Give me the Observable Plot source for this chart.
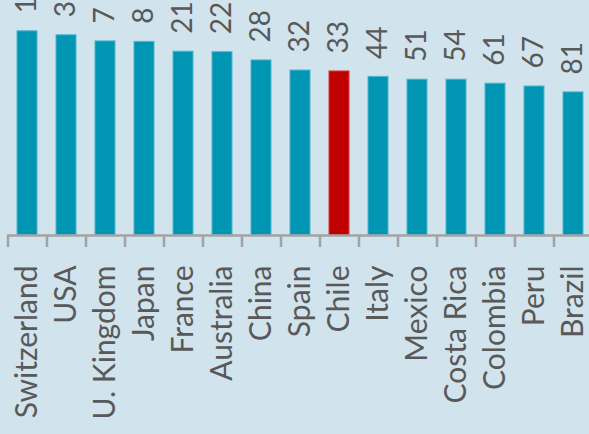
<!DOCTYPE html>
<html>
<head>
<meta charset="utf-8">
<script src="https://cdn.jsdelivr.net/npm/d3@7"></script>
<script src="https://cdn.jsdelivr.net/npm/@observablehq/plot@0.6"></script>
<style>
  html, body { margin: 0; padding: 0; background: #d1e3ec; overflow: hidden; }
  #chart svg { display: block; }
</style>
</head>
<body>
<div id="chart"></div>
<script>
const countries = ["Switzerland", "USA", "U. Kingdom", "Japan", "France", "Australia", "China", "Spain", "Chile", "Italy", "Mexico", "Costa Rica", "Colombia", "Peru", "Brazil"];
const ranks = [1, 3, 7, 8, 21, 22, 28, 32, 33, 44, 51, 54, 61, 67, 81];
const scores = [86.9, 85.2, 82.6, 82.4, 78.2, 78.0, 74.5, 70.2, 69.8, 67.5, 66.3, 66.3, 64.6, 63.4, 60.9];
const highlight = "Chile";

const data = countries.map((c, i) => ({country: c, rank: ranks[i], score: scores[i]}));

const W = 589, H = 434;
const mL = 7, mR = -3, mT = 0, mB = 199;
const step = (W - mL - mR) / countries.length;
const font = "Lato, 'Open Sans', sans-serif";

const plot = Plot.plot({
  width: W,
  height: H,
  marginLeft: mL,
  marginRight: mR,
  marginTop: mT,
  marginBottom: mB,
  style: {background: "#d1e3ec", fontFamily: font, color: "#595959"},
  x: {domain: countries, paddingInner: 0.49, paddingOuter: 0.245, label: null},
  y: {domain: [0, 100], label: null},
  marks: [
    Plot.barY(data, {
      x: "country", y: "score",
      fill: d => d.country === highlight ? "#c00000" : "#0095b3",
      stroke: d => d.country === highlight ? "#d83a3a" : "#4eb6cc",
      strokeWidth: 1
    }),
    Plot.text(data, {
      x: "country", y: "score", text: d => String(d.rank),
      rotate: -90, textAnchor: "start", lineAnchor: "middle",
      dy: -18, fontSize: 28, fill: "#595959"
    }),
    Plot.ruleY([0], {stroke: "#a3a3a3", strokeWidth: 2.5}),
    Plot.axisX({tickSize: 12, dx: -step / 2, tickFormat: () => "", stroke: "#a3a3a3", strokeWidth: 2.5, label: null}),
    Plot.axisX({tickSize: 0, tickPadding: 30, tickRotate: -90, fontSize: 30, fill: "#595959", label: null}),
    Plot.axisY({ticks: [], label: null})
  ]
});
document.getElementById("chart").appendChild(plot);
</script>
</body>
</html>
